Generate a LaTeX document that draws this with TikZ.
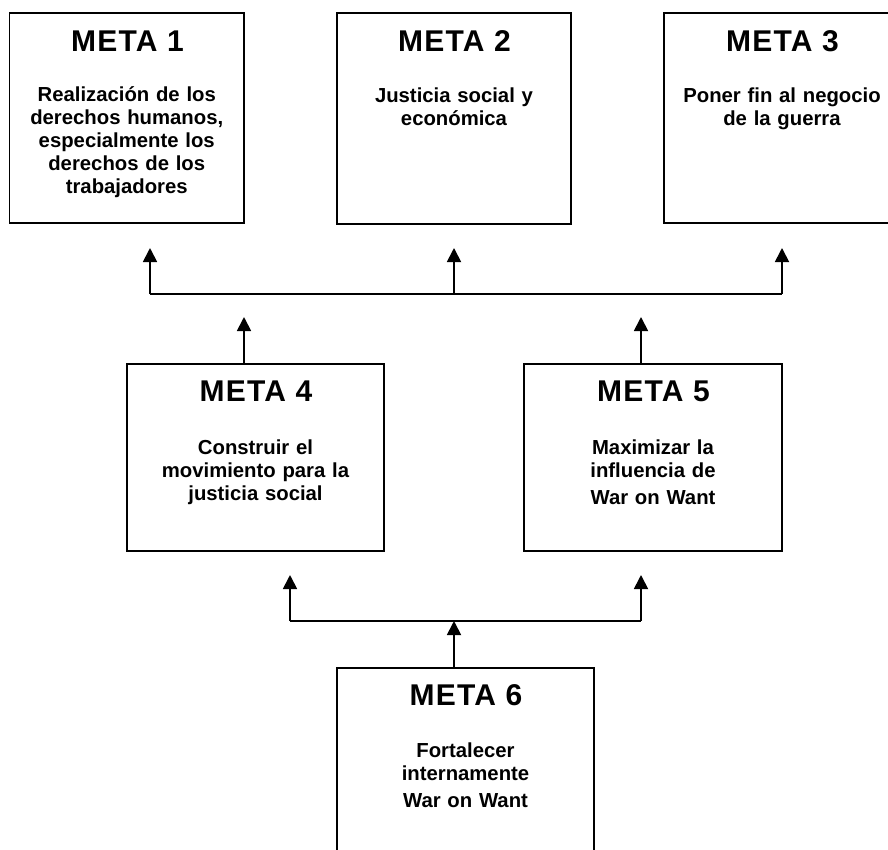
\documentclass[tikz,border=0pt]{standalone}
\usepackage{fontspec}
\setmainfont{Liberation Sans}
\newfontfamily\ttlfont{Liberation Sans Bold}[LetterSpace=4]
\usetikzlibrary{arrows.meta}
\begin{document}
\begin{tikzpicture}[x=1pt,y=-1pt,
  box/.style={draw=black,line width=1.8pt,anchor=north west,inner sep=0pt,outer sep=0pt},
  ttl/.style={anchor=base,inner sep=0pt,font=\ttlfont\fontsize{30}{36}\selectfont},
  body/.style={anchor=base,inner sep=0pt,align=center,text width=#1,font=\bfseries\fontsize{20.3}{23.1}\selectfont},
  ln/.style={line width=1.8pt},
  arr/.style={line width=1.8pt,-{Triangle[length=14pt,width=14pt]}}]
\clip (0,0) rectangle (888,849);
\fill[white] (0,0) rectangle (888,849);
% boxes
\node[box,minimum width=234.5pt,minimum height=210pt] (m1) at (9.5,13) {};
\node[box,minimum width=234pt,minimum height=211pt] (m2) at (337,13) {};
\node[box,minimum width=236pt,minimum height=210pt] (m3) at (664,13) {};
\node[box,minimum width=257pt,minimum height=187pt] (m4) at (127,364) {};
\node[box,minimum width=258pt,minimum height=187pt] (m5) at (524,364) {};
\node[box,minimum width=257pt,minimum height=220pt] (m6) at (337,668) {};
% titles
\node[ttl] (t1) at (127.5,51) {META 1};
\node[ttl] (t2) at (454.5,51) {META 2};
\node[ttl] (t3) at (782.5,51) {META 3};
\node[ttl] (t4) at (256,401.5) {META 4};
\node[ttl] (t5) at (653.5,401.5) {META 5};
\node[ttl] (t6) at (466,705.5) {META 6};
% bodies
\node[body=220pt] (b1) at (126.75,101.5) {Realización de los\\derechos humanos,\\especialmente los\\derechos de los\\trabajadores};
\node[body=220pt] (b2) at (454,102) {Justicia social y\\económica};
\node[body=220pt] (b3) at (782,102) {Poner fin al negocio\\de la guerra};
\node[body=240pt] (b4) at (255.5,454) {Construir el\\movimiento para la\\justicia social};
\node[body=240pt] (b5) at (653,454) {Maximizar la\\influencia de\\[4pt]War on Want};
\node[body=240pt] (b6) at (465.5,757.5) {Fortalecer\\internamente\\[4pt]War on Want};
% connector points
\coordinate (j1) at (150,294);
\coordinate (j2) at (454,294);
\coordinate (j3) at (782,294);
\coordinate (a1) at (150,248);
\coordinate (a2) at (454,248);
\coordinate (a3) at (782,248);
\coordinate (c4) at (244,317);
\coordinate (c5) at (641,317);
\coordinate (h1) at (290,621);
\coordinate (h2) at (641,621);
\coordinate (l1) at (290,575);
\coordinate (l2) at (641,575);
\coordinate (h6) at (454,621);
% connectors
\draw[ln] (j1) -- (j3);
\draw[arr] (j1) -- (a1);
\draw[arr] (j2) -- (a2);
\draw[arr] (j3) -- (a3);
\draw[arr] (m4.north -| c4) -- (c4);
\draw[arr] (m5.north -| c5) -- (c5);
\draw[ln] (h1) -- (h2);
\draw[arr] (h1) -- (l1);
\draw[arr] (h2) -- (l2);
\draw[arr] (m6.north -| h6) -- (h6);
\end{tikzpicture}
\end{document}
